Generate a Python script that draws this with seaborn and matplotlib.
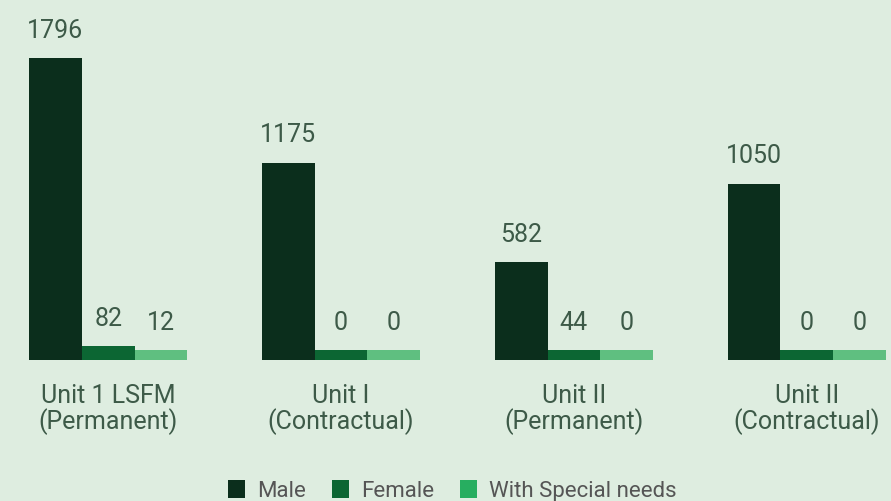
import pandas as pd
import matplotlib.pyplot as plt
import seaborn as sns
from matplotlib.patches import Patch

# Dados do gráfico
unidades = ["Unit 1 LSFM\n(Permanent)", "Unit I\n(Contractual)",
            "Unit II\n(Permanent)", "Unit II\n(Contractual)"]
grupos = ["Male", "Female", "With Special needs"]
masculino = [1796, 1175, 582, 1050]
feminino = [82, 0, 44, 0]
especial = [12, 0, 0, 0]
series = [masculino, feminino, especial]

# Cores
fundo = "#deede0"
cores_barras = ["#0b2e1c", "#0c6633", "#5fbf80"]
cores_legenda = ["#0b2e1c", "#0c6633", "#27ae60"]
cor_texto = "#3d5a48"

df = pd.DataFrame({
    "unidade": unidades * 3,
    "grupo": [g for g in grupos for _ in unidades],
    "total": masculino + feminino + especial,
})

sns.set_theme(style="white")
plt.rcParams["font.family"] = ["Roboto", "DejaVu Sans"]

fig = plt.figure(figsize=(8.91, 5.01), dpi=100, facecolor=fundo)
ax = fig.add_axes([0, 141 / 501, 1, 360 / 501])
ax.set_facecolor(fundo)

sns.barplot(data=df, x="unidade", y="total", hue="grupo", hue_order=grupos,
            palette=cores_barras, width=0.68, saturation=1, linewidth=0,
            legend=False, ax=ax)

ax.set_xlim(-0.465, 3.362)
ax.set_ylim(0, 2143)

# barras com valor zero aparecem como um pequeno traço
minimo = 60
for p in ax.patches:
    if p.get_height() < minimo:
        p.set_height(minimo)

for cont, valores in zip(ax.containers, series):
    lbls = ax.bar_label(cont, labels=[str(v) for v in valores], padding=11,
                        fontsize=18, color=cor_texto)
    for t in lbls:
        t.set_clip_on(False)

sns.despine(ax=ax, left=True, bottom=True)
ax.set_yticks([])
ax.set_xlabel("")
ax.set_ylabel("")
ax.tick_params(axis="x", length=0, pad=17)
for t in ax.get_xticklabels():
    t.set_fontsize(18)
    t.set_color(cor_texto)
    t.set_linespacing(1.05)

handles = [Patch(facecolor=c, edgecolor="none") for c in cores_legenda]
fig.legend(handles, grupos, loc="center", bbox_to_anchor=(0.508, 10 / 501),
           ncol=3, frameon=False, fontsize=16, handlelength=0.77,
           handleheight=0.85, handletextpad=0.55, columnspacing=1.15,
           labelcolor="#555555")

plt.savefig("out.png", dpi=100, facecolor=fundo)
plt.close()
